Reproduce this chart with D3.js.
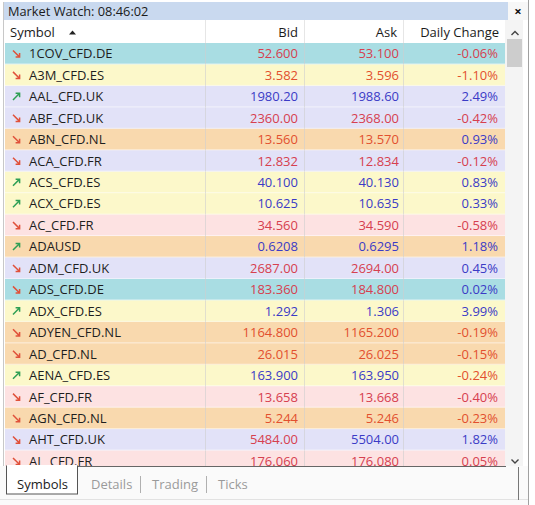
<!DOCTYPE html>
<html><head><meta charset="utf-8">
<script src="https://cdn.jsdelivr.net/npm/d3@7"></script>
<style>
html,body{margin:0;padding:0;background:#fff;}
svg{display:block;font-family:"Open Sans","Noto Sans",sans-serif;}
</style></head>
<body>
<svg id="c" width="535" height="505"></svg>
<script>
// ---- data ----
const title = "Market Watch: 08:46:02";
const columns = ["Symbol", "Bid", "Ask", "Daily Change"];
const symbols = ["1COV_CFD.DE","A3M_CFD.ES","AAL_CFD.UK","ABF_CFD.UK","ABN_CFD.NL","ACA_CFD.FR","ACS_CFD.ES","ACX_CFD.ES","AC_CFD.FR","ADAUSD","ADM_CFD.UK","ADS_CFD.DE","ADX_CFD.ES","ADYEN_CFD.NL","AD_CFD.NL","AENA_CFD.ES","AF_CFD.FR","AGN_CFD.NL","AHT_CFD.UK","AL_CFD.FR"];
const bids = ["52.600","3.582","1980.20","2360.00","13.560","12.832","40.100","10.625","34.560","0.6208","2687.00","183.360","1.292","1164.800","26.015","163.900","13.658","5.244","5484.00","176.060"];
const asks = ["53.100","3.596","1988.60","2368.00","13.570","12.834","40.130","10.635","34.590","0.6295","2694.00","184.800","1.306","1165.200","26.025","163.950","13.668","5.246","5504.00","176.080"];
const changes = ["-0.06%","-1.10%","2.49%","-0.42%","0.93%","-0.12%","0.83%","0.33%","-0.58%","1.18%","0.45%","0.02%","3.99%","-0.19%","-0.15%","-0.24%","-0.40%","-0.23%","1.82%","0.05%"];
// tick direction: 1 = up (blue), -1 = down (red)
const arrowDir = [-1,-1,1,-1,-1,-1,1,1,-1,1,-1,-1,1,-1,-1,1,-1,-1,-1,-1];
const bidDir   = [-1,-1,1,-1,-1,-1,1,1,-1,1,-1,-1,1,-1,-1,1,-1,-1,-1,-1];
const askDir   = [-1,-1,1,-1,-1,-1,1,1,-1,1,-1,-1,1,-1,-1,1,-1,-1,1,-1];
const changeDir= [-1,-1,1,-1,1,-1,1,1,-1,1,1,1,1,-1,-1,-1,-1,-1,1,-1];
const rowGroups = ["cyan","yellow","lavender","lavender","peach","lavender","yellow","yellow","pink","peach","lavender","cyan","yellow","peach","peach","yellow","pink","peach","lavender","pink"];
const tabs = ["Symbols","Details","Trading","Ticks"];

// ---- styles ----
const groupFill = {cyan:"#a9dde3", yellow:"#fcf8ca", lavender:"#e2e2f8", peach:"#f9d9ae", pink:"#fde2e2"};
const warmGroups = new Set(["yellow","peach"]);
const blue = "#3b3bc6";
const redCool = "#d6404f", redWarm = "#e2502e";
const upArrow = "#2f9f55", downArrow = "#e0513a";

const svg = d3.select("#c");
const W = 535, H = 505;
const left = 5, right = 505, headerTop = 20, headerBottom = 43, rowH = 21.45, tabTop = 466;

// background
svg.append("rect").attr("width",W).attr("height",H).attr("fill","#fff");

// title bar
svg.append("rect").attr("x",3).attr("y",2).attr("width",505).attr("height",18).attr("fill","#c9d9ef");
svg.append("rect").attr("x",508).attr("y",2).attr("width",20).attr("height",18).attr("fill","#f7f7f7");
svg.append("text").attr("x",8).attr("y",15.5).attr("font-size",12.8).attr("fill","#1b1b1b").text(title);
svg.append("text").attr("x",518).attr("y",16).attr("text-anchor","middle").attr("font-size",13).attr("font-weight","bold").attr("fill","#111").text("×");

// column scale
const colX = d3.scaleOrdinal().domain(columns).range([left, 205, 304, 403]);
const colEnd = d3.scaleOrdinal().domain(columns).range([205, 304, 403, right]);

// header
svg.append("rect").attr("x",left).attr("y",headerTop).attr("width",right-left).attr("height",headerBottom-headerTop).attr("fill","#fff");
const hdr = svg.append("g");
columns.forEach((c,i) => {
  if (i>0) hdr.append("line").attr("x1",colX(c)+0.5).attr("x2",colX(c)+0.5).attr("y1",headerTop).attr("y2",headerBottom).attr("stroke","#e6e6e6");
  const t = hdr.append("text").attr("y",37).attr("font-size",13).attr("fill","#1b1b1b").text(c);
  if (i===0) t.attr("x",10); else t.attr("x",colEnd(c)-6).attr("text-anchor","end");
});
hdr.append("path").attr("d","M69,34.5 L72.5,30.5 L76,34.5 Z").attr("fill","#222");

// rows
const y = d3.scaleBand().domain(symbols).range([headerBottom, headerBottom + symbols.length*rowH]).paddingInner(0);
svg.append("clipPath").attr("id","tbl").append("rect").attr("x",left).attr("y",headerBottom).attr("width",right-left).attr("height",tabTop-headerBottom);
const body = svg.append("g").attr("clip-path","url(#tbl)");
const rows = body.selectAll("g.row").data(symbols.map((s,i)=>({s,i}))).join("g").attr("class","row")
  .attr("transform",d=>`translate(0,${y(d.s)})`);
rows.append("rect").attr("x",left).attr("width",right-left).attr("height",rowH).attr("fill",d=>groupFill[rowGroups[d.i]]);
rows.append("line").attr("x1",left).attr("x2",right).attr("y1",rowH-0.5).attr("y2",rowH-0.5).attr("stroke","#ffffff").attr("stroke-opacity",0.55);
columns.slice(1).forEach(c=>{
  rows.append("line").attr("x1",colX(c)+0.5).attr("x2",colX(c)+0.5).attr("y1",0).attr("y2",rowH).attr("stroke","#cfcfcf").attr("stroke-opacity",0.6);
});
const cy = rowH/2;
rows.append("path").attr("fill","none").attr("stroke-width",1.5)
  .attr("stroke",d=>arrowDir[d.i]>0?upArrow:downArrow)
  .attr("d",d=>{
    const x0=13, s=3.3;
    return arrowDir[d.i]>0
      ? `M${x0},${cy+s} L${x0+2*s},${cy-s} M${x0+2*s-4},${cy-s} L${x0+2*s},${cy-s} L${x0+2*s},${cy-s+4}`
      : `M${x0},${cy-s} L${x0+2*s},${cy+s} M${x0+2*s-4},${cy+s} L${x0+2*s},${cy+s} L${x0+2*s},${cy+s-4}`;
  });
const red = i => warmGroups.has(rowGroups[i]) ? redWarm : redCool;
rows.append("text").attr("x",29).attr("y",cy+4.6).attr("font-size",13).attr("fill","#1e1e1e").text(d=>d.s);
rows.append("text").attr("x",colEnd("Bid")-6).attr("y",cy+4.6).attr("text-anchor","end").attr("font-size",13)
  .attr("fill",d=>bidDir[d.i]>0?blue:red(d.i)).text(d=>bids[d.i]);
rows.append("text").attr("x",colEnd("Ask")-4).attr("y",cy+4.6).attr("text-anchor","end").attr("font-size",13)
  .attr("fill",d=>askDir[d.i]>0?blue:red(d.i)).text(d=>asks[d.i]);
rows.append("text").attr("x",colEnd("Daily Change")-7).attr("y",cy+4.6).attr("text-anchor","end").attr("font-size",13)
  .attr("fill",d=>changeDir[d.i]>0?blue:red(d.i)).text(d=>changes[d.i]);

// scrollbar
svg.append("rect").attr("x",505).attr("y",20).attr("width",18).attr("height",tabTop-20).attr("fill","#f4f4f4");
svg.append("rect").attr("x",507).attr("y",39).attr("width",15).attr("height",28).attr("fill","#cdcdcd");
svg.append("path").attr("d","M511.5,35 L515,31.5 L518.5,35").attr("fill","none").attr("stroke","#444").attr("stroke-width",1.4);
svg.append("path").attr("d","M511.5,459.5 L515,463 L518.5,459.5").attr("fill","none").attr("stroke","#444").attr("stroke-width",1.4);

// window borders
svg.append("line").attr("x1",528.5).attr("x2",528.5).attr("y1",0).attr("y2",H).attr("stroke","#a0a0a0");
svg.append("line").attr("x1",3.5).attr("x2",3.5).attr("y1",2).attr("y2",tabTop).attr("stroke","#c8c8c8");

// tab bar
svg.append("rect").attr("x",0).attr("y",tabTop).attr("width",528).attr("height",H-tabTop).attr("fill","#fafafa");
svg.append("line").attr("x1",77).attr("x2",506).attr("y1",tabTop+0.5).attr("y2",tabTop+0.5).attr("stroke","#666");
svg.append("rect").attr("x",6.5).attr("y",tabTop).attr("width",71).attr("height",28).attr("fill","#fff").attr("stroke","#555");
svg.append("rect").attr("x",7).attr("y",tabTop-1).attr("width",70).attr("height",2).attr("fill","#fff");
svg.append("line").attr("x1",0).attr("x2",528).attr("y1",499.5).attr("y2",499.5).attr("stroke","#e2e2e2");
const tabX = d3.scaleOrdinal().domain(tabs).range([17, 91, 152, 218]);
svg.selectAll("text.tab").data(tabs).join("text").attr("class","tab")
  .attr("x",d=>tabX(d)).attr("y",489).attr("font-size",13)
  .attr("fill",(d,i)=>i===0?"#1b1b1b":"#9a9a9a").text(d=>d);
[140, 206].forEach(x=>svg.append("line").attr("x1",x+0.5).attr("x2",x+0.5).attr("y1",476).attr("y2",493).attr("stroke","#b0b0b0"));
svg.append("line").attr("x1",518.5).attr("x2",518.5).attr("y1",467).attr("y2",500).attr("stroke","#777");
</script>
</body></html>
